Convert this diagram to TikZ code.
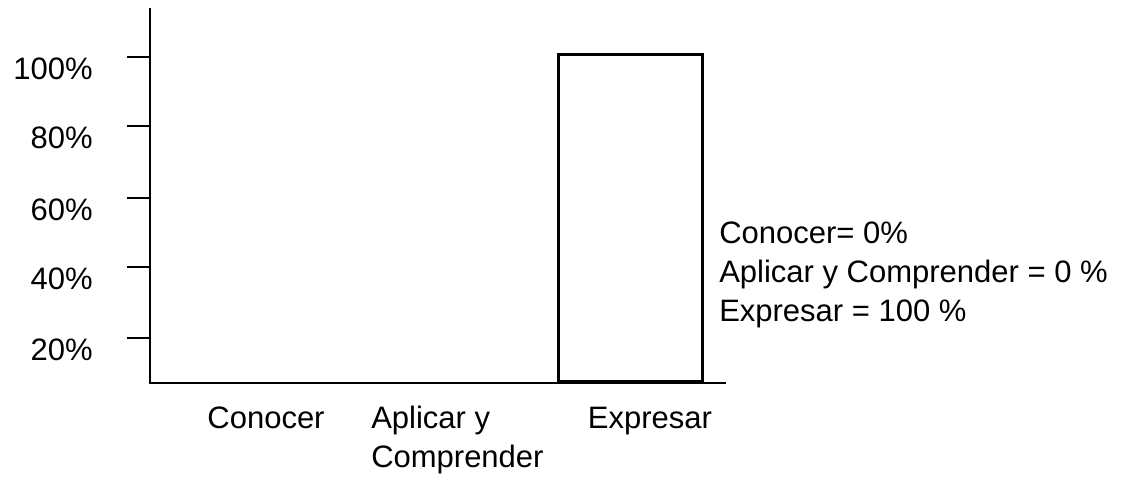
\documentclass[tikz,border=0pt]{standalone}
\usepackage{fontspec}
\setmainfont{Liberation Sans}
\begin{document}
\begin{tikzpicture}[x=1pt,y=-1pt,line width=2.5pt,
  lbl/.style={font=\fontsize{31}{37}\selectfont, inner sep=0pt},
  axis/.style={line width=2.8pt}]
\useasboundingbox (0,0) rectangle (1145,483);
% axes
\coordinate (ytop) at (150,8);
\coordinate (orig) at (150,383);
\coordinate (xend) at (726,383);
\draw[axis] (ytop) -- (orig) -- (xend);
% ticks and labels
\foreach \y/\t [count=\i] in {57/100\%,126/80\%,198/60\%,267/40\%,338/20\%}{
  \coordinate (tk\i) at (127,\y);
  \draw[axis] (tk\i) -- (150,\y);
  \node[lbl, anchor=base east] (yl\i) at (94,\y+22) {\t};
}
% bar
\node[draw, line width=2.8pt, minimum width=144pt, minimum height=327pt, inner sep=0pt, anchor=south west] (bar) at (557,383) {};
% x labels
\node[lbl, anchor=base] (c1) at (266,428) {Conocer};
\node[lbl, anchor=base west] (c2a) at (370,428) {Aplicar y};
\node[lbl, anchor=base west] (c2b) at (370,467) {Comprender};
\node[lbl, anchor=base] (c3) at (650,428) {Expresar};
% legend text
\node[lbl, anchor=base west] (t1) at (718,243) {Conocer= 0\%};
\node[lbl, anchor=base west] (t2) at (718,282) {Aplicar y Comprender = 0 \%};
\node[lbl, anchor=base west] (t3) at (718,321) {Expresar = 100 \%};
\end{tikzpicture}
\end{document}
